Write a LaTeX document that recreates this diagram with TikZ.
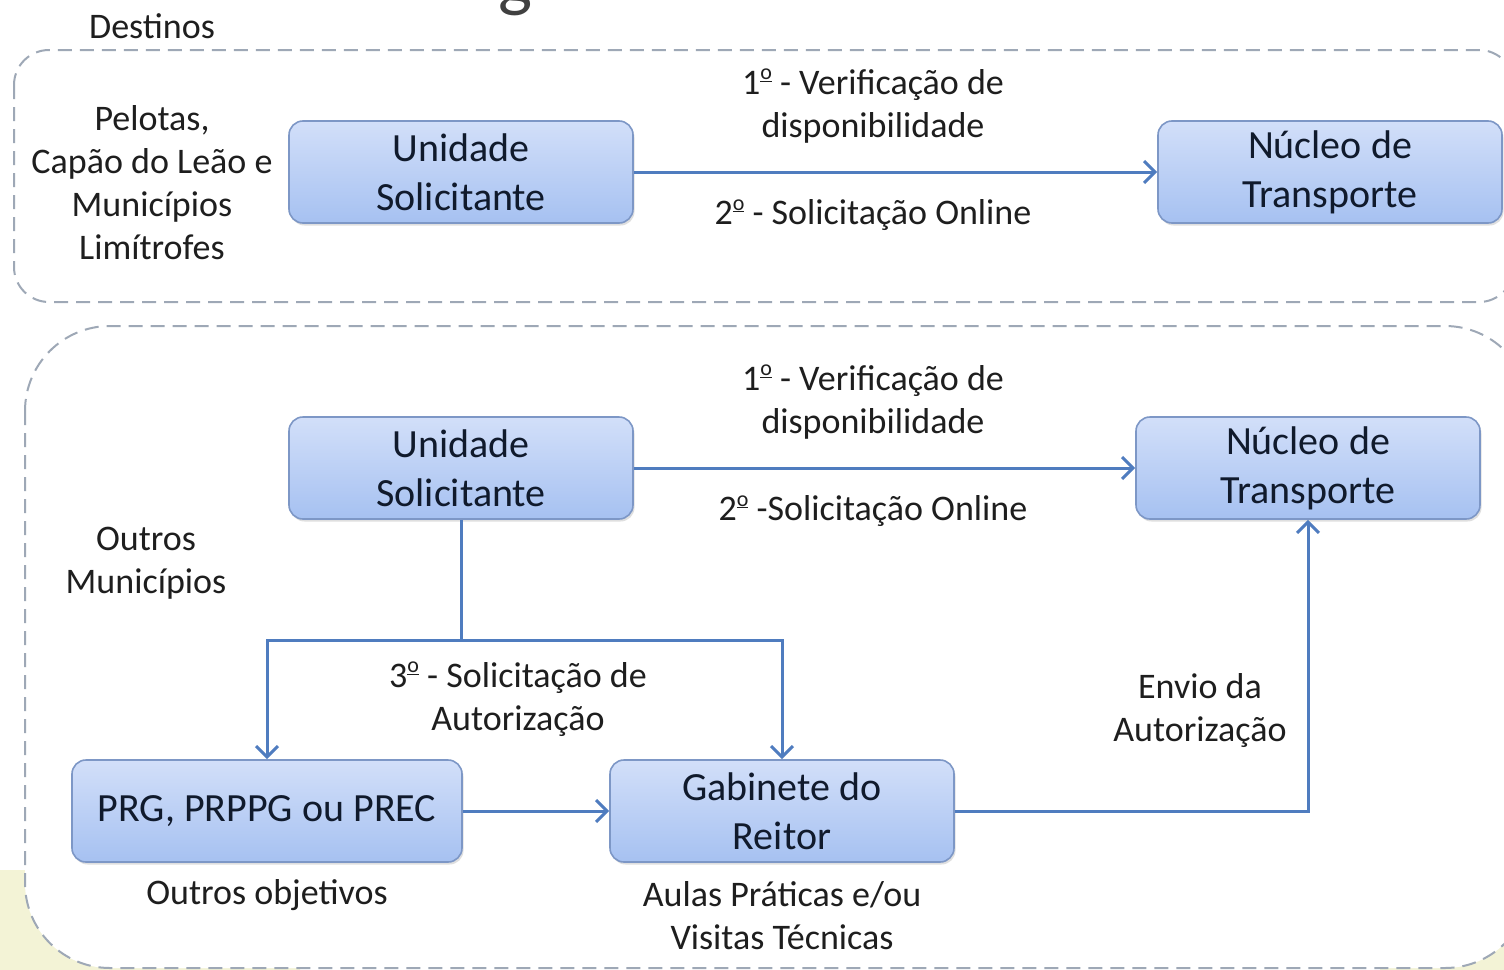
\documentclass[tikz,border=0pt]{standalone}
\usepackage{fontspec}
\setmainfont{Carlito}
\usetikzlibrary{arrows.meta,shadows,calc}
\definecolor{boxtop}{HTML}{D2DFF9}
\definecolor{boxbot}{HTML}{A6C1F1}
\definecolor{boxline}{HTML}{7D97C6}
\definecolor{conncol}{HTML}{4F7CBF}
\definecolor{dashcol}{HTML}{9EA8B6}
\definecolor{txtcol}{HTML}{1E1E1E}
\definecolor{boxtxt}{HTML}{101A2C}
\definecolor{bgyellow}{HTML}{F3F3D6}
\newcommand{\ordo}{\raisebox{0.40em}{\fontsize{22}{22}\selectfont\underline{o}}}
\tikzset{
  procbox/.style={draw=boxline, line width=1.6pt, rounded corners=14pt,
    top color=boxtop, bottom color=boxbot, minimum width=344pt, minimum height=102pt,
    inner sep=0pt, align=center, text=boxtxt,
    font=\fontsize{40}{49}\selectfont,
    drop shadow={opacity=0.25, shadow xshift=1.5pt, shadow yshift=-2.5pt}},
  lbl/.style={align=center, text=txtcol, inner sep=0pt, font=\fontsize{36}{43}\selectfont},
  conn/.style={draw=conncol, line width=3pt},
  arr/.style={conn, -{Straight Barb[length=11pt,width=22pt,line width=3pt]}},
  group/.style={draw=dashcol, line width=2pt, dash pattern=on 14pt off 8pt}
}
\begin{document}
\begin{tikzpicture}[x=1pt,y=-1pt]
\useasboundingbox (0,0) rectangle (1504,969);
% background yellow patches
\fill[bgyellow, rounded corners=40pt] (-60,870) rectangle (300,1040);
\fill[bgyellow] (1380,880) rectangle (1560,1040);
% partial title glyph
\node[anchor=base, text=black!75, inner sep=0pt, font=\fontsize{72}{80}\selectfont] (title) at (515,3) {g};
% group frames
\draw[group, fill=white, rounded corners=35pt] (14,50) rectangle (1514,302);
\draw[group, fill=white, rounded corners=85pt] (25,326) rectangle (1530,968);
% top section
\node[lbl] (dest) at (152,26) {Destinos};
\node[lbl] (loc1) at (152,183) {Pelotas,\\Capão do Leão e\\Municípios\\Limítrofes};
\node[procbox] (us1) at (461,172) {Unidade\\Solicitante};
\node[procbox] (nt1) at (1330,172) {Núcleo de\\Transporte};
\draw[arr] (us1) -- (nt1);
\node[lbl] (v1) at (873,106) {1\ordo{} - Verificação de\\disponibilidade};
\node[lbl] (s1) at (873,215) {2\ordo{} - Solicitação Online};
% bottom section
\node[procbox] (us2) at (461,468) {Unidade\\Solicitante};
\node[procbox] (nt2) at (1308,468) {Núcleo de\\Transporte};
\draw[arr] (us2) -- (nt2);
\node[lbl] (v2) at (873,402) {1\ordo{} - Verificação de\\disponibilidade};
\node[lbl] (s2) at (873,511) {2\ordo{} -Solicitação Online};
\node[lbl] (loc2) at (146,563) {Outros\\Municípios};
\node[procbox, minimum width=390pt] (prg) at (267,811) {PRG, PRPPG ou PREC};
\node[procbox] (gab) at (782,811) {Gabinete do\\Reitor};
\coordinate (split) at (461,640);
\draw[conn] (us2.south) -- (split);
\draw[arr] (split) -| (prg.north);
\draw[arr] (split) -| (gab.north);
\draw[arr] (prg) -- (gab);
\draw[arr] (gab.east) -| (nt2.south);
\node[lbl] (aut) at (518,699) {3\ordo{} - Solicitação de\\Autorização};
\node[lbl] (env) at (1200,711) {Envio da\\Autorização};
\node[lbl] (obj) at (267,895) {Outros objetivos};
\node[lbl] (aulas) at (782,916) {Aulas Práticas e/ou\\Visitas Técnicas};
\end{tikzpicture}
\end{document}
